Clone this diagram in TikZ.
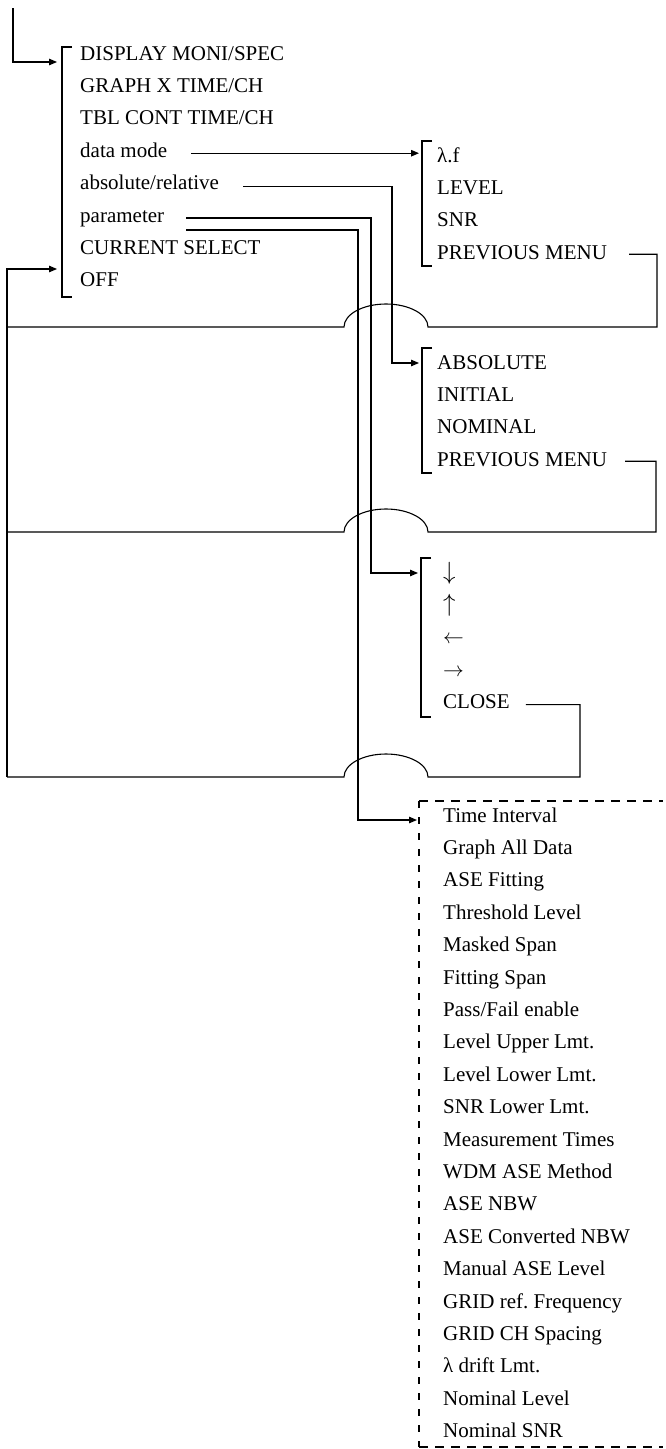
\documentclass[tikz,border=0pt]{standalone}
\usepackage{fontspec}
\setmainfont{Liberation Serif}
\usetikzlibrary{arrows.meta, positioning}
\tikzset{
  item/.style={anchor=north west, inner sep=0pt, text height=15pt, text depth=5pt, font=\fontsize{21}{25}\selectfont},
  under/.style={below=12pt of #1.south west, anchor=north west},
  tall/.style={font=\fontsize{27}{27}\selectfont},
  wire/.style={line width=1.1pt},
  link/.style={wire, -{Triangle[length=8pt, width=6.5pt]}},
  dashh/.style={wire, dash pattern=on 9pt off 7pt},
  dashv/.style={wire, dash pattern=on 7pt off 9pt},
}

\begin{document}
\begin{tikzpicture}[x=1pt, y=-1pt]
\useasboundingbox (0,0) rectangle (665,1449);

% main menu
\node[item, anchor=base west] (disp) at (80,60) {DISPLAY MONI/SPEC};
\node[item, under=disp] (graph) {GRAPH X TIME/CH};
\node[item, under=graph] (tbl) {TBL CONT TIME/CH};
\node[item, under=tbl] (dmode) {data mode};
\node[item, under=dmode] (absrel) {absolute/relative};
\node[item, under=absrel] (param) {parameter};
\node[item, under=param] (cursel) {CURRENT SELECT};
\node[item, under=cursel] (off) {OFF};
\draw[wire] (72,47) -- (62,47) -- (62,297) -- (72,297);

% data mode menu
\node[item, anchor=base west] (lf) at (437,162) {λ.f};
\node[item, under=lf] (level) {LEVEL};
\node[item, under=level] (snr) {SNR};
\node[item, under=snr] (prevA) {PREVIOUS MENU};
\draw[wire] (432,141) -- (422,141) -- (422,266) -- (432,266);

% absolute/relative menu
\node[item, anchor=base west] (abso) at (437,369) {ABSOLUTE};
\node[item, under=abso] (init) {INITIAL};
\node[item, under=init] (nomi) {NOMINAL};
\node[item, under=nomi] (prevB) {PREVIOUS MENU};
\draw[wire] (432,348) -- (422,348) -- (422,473) -- (432,473);

% cursor menu
\node[item, tall, anchor=base west] (down) at (443,579) {$\downarrow$};
\node[item, tall, under=down] (up) {$\uparrow$};
\node[item, under=up] (left) {$\leftarrow$};
\node[item, under=left] (right) {$\rightarrow$};
\node[item, under=right] (close) {CLOSE};
\draw[wire] (431,558) -- (421,558) -- (421,717) -- (431,717);

% parameter list
\node[item, anchor=base west] (tint) at (443,822) {Time Interval};
\node[item, under=tint] (gall) {Graph All Data};
\node[item, under=gall] (asefit) {ASE Fitting};
\node[item, under=asefit] (thr) {Threshold Level};
\node[item, under=thr] (mask) {Masked Span};
\node[item, under=mask] (fspan) {Fitting Span};
\node[item, under=fspan] (pf) {Pass/Fail enable};
\node[item, under=pf] (lup) {Level Upper Lmt.};
\node[item, under=lup] (llow) {Level Lower Lmt.};
\node[item, under=llow] (snrlow) {SNR Lower Lmt.};
\node[item, under=snrlow] (mtimes) {Measurement Times};
\node[item, under=mtimes] (wdm) {WDM ASE Method};
\node[item, under=wdm] (nbw) {ASE NBW};
\node[item, under=nbw] (cnbw) {ASE Converted NBW};
\node[item, under=cnbw] (mase) {Manual ASE Level};
\node[item, under=mase] (gfreq) {GRID ref.\ Frequency};
\node[item, under=gfreq] (gsp) {GRID CH Spacing};
\node[item, under=gsp] (ldrift) {λ drift Lmt.};
\node[item, under=ldrift] (nlev) {Nominal Level};
\node[item, under=nlev] (nsnr) {Nominal SNR};
\draw[dashh] (419,801) -- (663,801);
\draw[dashh] (419,1447) -- (663,1447);
\draw[dashv] (419,801) -- (419,1447);

% turning points
\coordinate (inL) at (57,62);
\coordinate (inOff) at (57,269);
\coordinate (inA) at (419,152);
\coordinate (turnB) at (392,363);
\coordinate (inB) at (419,363);
\coordinate (turnC) at (371,573);
\coordinate (inC) at (418,573);
\coordinate (turnD) at (358,820);
\coordinate (inD) at (417,820);
\coordinate (retA) at (657,327);
\coordinate (retB) at (656,532);
\coordinate (retC) at (580,777);

% links
\draw[link] (13,8) |- (inL);
\draw[link] (dmode.base east) ++(24,-4) coordinate (dm0) -- (dm0 -| inA);
\draw[link] (absrel.base east) ++(24,-3) -| (turnB) -- (inB);
\draw[link] (param.base east) ++(22,-4) -| (turnC) -- (inC);
\draw[link] (param.base east) ++(22,8) -| (turnD) -- (inD);

% back lines
\draw[wire] (prevA.base east) ++(22,-5) -| (retA) -- (428,327) arc[start angle=0, end angle=180, x radius=42pt, y radius=23pt] -- (7,327);
\draw[wire] (prevB.base east) ++(18,-5) -| (retB) -- (428,532) arc[start angle=0, end angle=180, x radius=42pt, y radius=23pt] -- (7,532);
\draw[wire] (close.base east) ++(16,-4) -| (retC) -- (428,777) arc[start angle=0, end angle=180, x radius=42pt, y radius=23pt] -- (7,777);
\draw[link] (7,777) |- (inOff);
\end{tikzpicture}
\end{document}
